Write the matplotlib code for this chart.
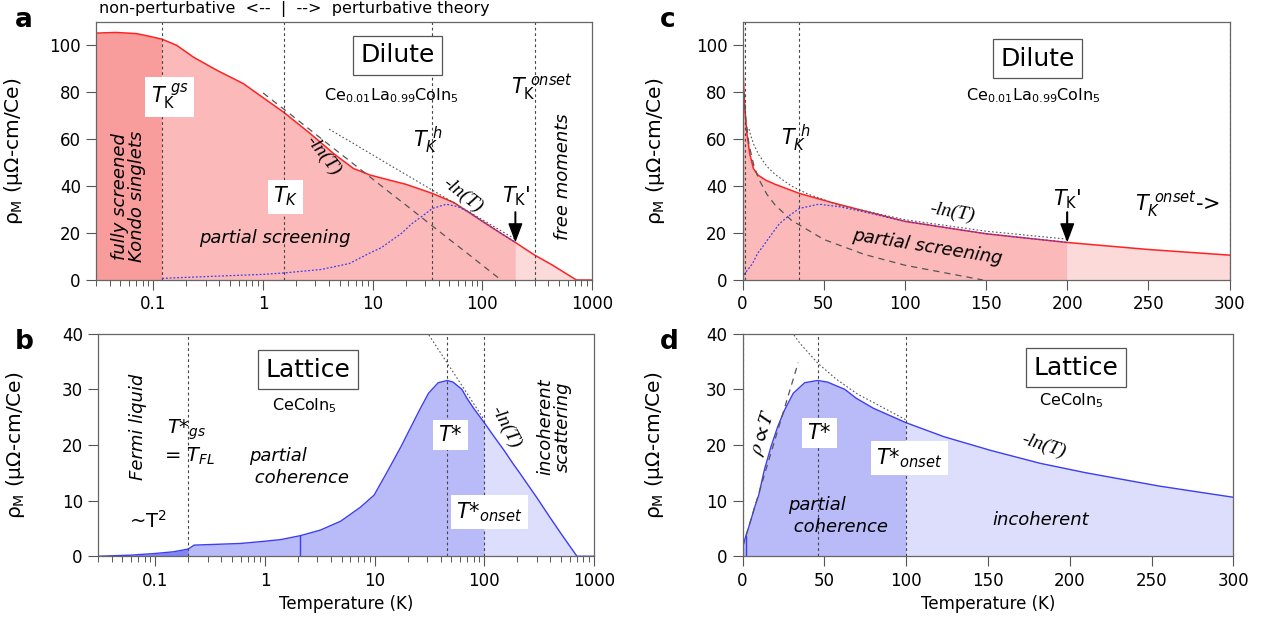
import numpy as np
import matplotlib.pyplot as plt
from matplotlib.ticker import LogLocator, NullFormatter

plt.rcParams['font.family'] = ['DejaVu Sans']
plt.rcParams['mathtext.fontset'] = 'dejavusans'

# dilute Ce0.01La0.99CoIn5, magnetic resistivity per Ce (uOhm-cm/Ce)
T_dil = [0.03, 0.045, 0.07, 0.093, 0.12, 0.163, 0.231, 0.378, 0.66, 1.0, 1.55, 2.69,
         4.39, 6.68, 9.5, 14.4, 20, 35, 55, 100, 150, 200, 250, 300, 430, 720, 1000]
rho_dil = [105.2, 105.5, 105.0, 103.8, 102.6, 100.0, 95.0, 89.4, 83.7, 77.7, 71.4, 62.4,
           53.9, 47.5, 44.7, 42.5, 40.8, 36.9, 33.0, 25.0, 19.7, 16.0, 13.0, 10.6, 6.5, 0.0, 0.0]

# partially screened contribution (blue dotted)
T_scr = [0.12, 0.41, 1.0, 1.55, 3.4, 6.1, 9.4, 12, 18.3, 22.7, 27.9, 35, 47, 60, 75, 100, 150, 200]
rho_scr = [0.7, 1.7, 2.4, 3.0, 4.5, 7.0, 11.5, 13.8, 19.9, 24.0, 27.0, 30.5, 32.3, 31.2, 29.0, 25.0, 19.7, 16.0]

# -ln(T) guides for the dilute curve
T_ln1 = [1, 2, 4, 7, 10, 15, 20, 30, 50, 75, 100, 148]
rho_ln1 = [79.7, 68.7, 57.6, 48.7, 43.0, 36.5, 32.0, 25.5, 17.3, 10.9, 6.3, 0.0]
T_ln2 = [4, 5, 7, 10, 15, 20, 30, 40, 60, 100, 150, 200]
rho_ln2 = [64.3, 61.6, 57.6, 53.3, 48.4, 45.0, 40.1, 36.7, 31.8, 25.7, 20.8, 17.4]

# lattice CeCoIn5
T_lat = [0.03, 0.06, 0.1, 0.146, 0.2, 0.226, 0.6, 1.0, 1.4, 2.1, 3.2, 4.9, 7.4, 9.9, 13.3,
         17.5, 21.5, 25.7, 31, 38, 46, 52, 62.5, 69.5, 80, 100, 123, 152, 182, 210, 255,
         300, 400, 500, 700, 1000]
rho_lat = [0.0, 0.2, 0.5, 0.8, 1.3, 2.0, 2.3, 2.7, 3.0, 3.7, 4.7, 6.3, 8.8, 11.0, 15.5,
           19.8, 23.3, 26.3, 29.3, 31.2, 31.6, 31.3, 30.0, 28.4, 26.6, 24.0, 21.5, 19.0, 16.7, 15.0, 12.6,
           10.6, 6.9, 4.1, 0.0, 0.0]

T_lnL = [25, 28, 35, 46, 57, 70, 100]
rho_lnL = [42.7, 41.2, 38.3, 34.7, 31.9, 29.2, 24.5]
T_lin = [0.2, 34]
rho_lin = [1.8, 34.8]

# characteristic temperatures
TK_gs, TK, TK_h, TK_p, TK_on = 0.12, 1.55, 35, 200, 300
Tgs, Tstar, Tstar_on = 0.2, 46, 100

red = '#ff2222'
red_fill = ['#f89c9c', '#fbb9b9', '#fddada']
blue = '#3d3df2'
blue_fill = ['#8286f4', '#b9bbf9', '#dddefc']
vl = dict(color='#444444', lw=0.8, ls=(0, (2.5, 2.5)))
serif_it = dict(family='Liberation Serif', style='italic', fontsize=14)
wbox = dict(boxstyle='square,pad=0.25', fc='white', ec='none')

fig = plt.figure(figsize=(12.65, 6.25), dpi=100)
ax_a = fig.add_axes([0.076, 0.552, 0.392, 0.413])
ax_b = fig.add_axes([0.0775, 0.110, 0.392, 0.356])
ax_c = fig.add_axes([0.587, 0.552, 0.385, 0.413])
ax_d = fig.add_axes([0.587, 0.110, 0.388, 0.356])


def style(ax, log, ymax, ystep, labx):
    if log:
        ax.set_xscale('log')
        ax.set_xlim(0.03, 1000)
        ax.set_xticks([0.1, 1, 10, 100, 1000])
        ax.set_xticklabels(['0.1', '1', '10', '100', '1000'])
        ax.xaxis.set_minor_locator(LogLocator(base=10, subs=np.arange(2, 10)))
        ax.xaxis.set_minor_formatter(NullFormatter())
    else:
        ax.set_xlim(0, 300)
        ax.set_xticks(np.arange(0, 301, 50))
    ax.set_ylim(0, ymax)
    ax.set_yticks(np.arange(0, ymax + 0.1, ystep) if ymax == 40 else np.arange(0, 101, 20))
    for s in ax.spines.values():
        s.set_color('#666666')
        s.set_linewidth(0.9)
    ax.tick_params(which='major', direction='out', length=7, width=0.8, color='#555555',
                   labelsize=12, pad=4)
    ax.tick_params(which='minor', direction='out', length=4, width=0.7, color='#555555')
    ax.set_ylabel('ρ$_{\\mathrm{M}}$ (μΩ-cm/Ce)', fontsize=14.5)
    ax.yaxis.set_label_coords(labx, 0.5)


def dilute(ax):
    T = np.array(T_dil)
    r = np.array(rho_dil)
    ax.fill_between(T, 0, r, where=T <= TK_gs, color=red_fill[0], lw=0)
    ax.fill_between(T, 0, r, where=(T >= TK_gs) & (T <= TK_p), color=red_fill[1], lw=0)
    ax.fill_between(T, 0, r, where=T >= TK_p, color=red_fill[2], lw=0)
    ax.plot(T, r, color=red, lw=1.1)
    for x in [TK_gs, TK, TK_h, TK_on]:
        ax.axvline(x, **vl)
    ax.plot(T_ln1, rho_ln1, color='#555555', lw=0.9, ls=(0, (5, 4)))
    ax.plot(T_ln2, rho_ln2, color='#555555', lw=0.8, ls=(0, (1.5, 2)))
    ax.plot(T_scr, rho_scr, color=blue, lw=0.9, ls=(0, (1.5, 1.5)))
    i = T_dil.index(TK_p)
    ax.annotate('', xy=(TK_p, rho_dil[i] + 0.8), xytext=(TK_p, rho_dil[i] + 13),
                arrowprops=dict(facecolor='k', edgecolor='k', width=0.4, headwidth=9,
                                headlength=12, shrink=0))


def lattice(ax):
    T = np.array(T_lat)
    r = np.array(rho_lat)
    ax.fill_between(T, 0, r, where=T <= Tgs, color=blue_fill[0], lw=0)
    ax.fill_between(T, 0, r, where=(T >= Tgs) & (T <= Tstar_on), color=blue_fill[1], lw=0)
    ax.fill_between(T, 0, r, where=T >= Tstar_on, color=blue_fill[2], lw=0)
    ax.plot(T, r, color=blue, lw=1.0)
    i = T_lat.index(2.1)
    ax.plot([2.1, 2.1], [0, rho_lat[i]], color=blue, lw=1.0)
    for x in [Tgs, Tstar, Tstar_on]:
        ax.axvline(x, **vl)
    ax.plot(T_lnL, rho_lnL, color='#555555', lw=0.8, ls=(0, (1.5, 2)))


# a: dilute, log T
dilute(ax_a)
style(ax_a, True, 110, 20, -0.143)
ax_a.text(16.9, 95.7, 'Dilute', fontsize=18, ha='center', va='center',
          bbox=dict(boxstyle='square,pad=0.3', fc='white', ec='#555555', lw=0.9))
ax_a.text(14.9, 78.7, r'Ce$_{0.01}$La$_{0.99}$CoIn$_5$', fontsize=11.5, ha='center', va='center')
ax_a.text(0.14, 78, r'$T_{\mathrm{K}}^{\ gs}$', fontsize=15, ha='center', va='center', bbox=wbox)
ax_a.text(1.6, 35.5, r'$T_K$', fontsize=15, ha='center', va='center', bbox=wbox)
ax_a.text(32, 59.6, r'$T_K^{\ h}$', fontsize=15, ha='center', va='center')
ax_a.text(3.5, 53, '-ln(T)', rotation=-52, ha='center', va='center', **serif_it)
ax_a.text(66, 36, '-ln(T)', rotation=-38, ha='center', va='center', **serif_it)
ax_a.text(205, 35.5, r"$T_{\mathrm{K}}$'", fontsize=15, ha='center', va='center')
ax_a.text(350, 82, r'$T_{\mathrm{K}}^{\ onset}$', fontsize=15, ha='center', va='center')
ax_a.text(540, 44, 'free moments', rotation=90, style='italic', fontsize=13,
          ha='center', va='center')
ax_a.text(0.059, 35.5, 'fully screened\nKondo singlets', rotation=90, style='italic',
          fontsize=13, ha='center', va='center', linespacing=0.95)
ax_a.text(1.29, 17.7, 'partial screening', style='italic', fontsize=13, ha='center', va='center')

# b: lattice, log T
lattice(ax_b)
style(ax_b, True, 40, 10, -0.143)
ax_b.set_xlabel('Temperature (K)', fontsize=12)
ax_b.text(2.47, 33.5, 'Lattice', fontsize=18, ha='center', va='center',
          bbox=dict(boxstyle='square,pad=0.3', fc='white', ec='#555555', lw=0.9))
ax_b.text(2.31, 27, r'CeCoIn$_5$', fontsize=11.5, ha='center', va='center')
ax_b.text(0.069, 23.3, 'Fermi liquid', rotation=90, style='italic', fontsize=13,
          ha='center', va='center')
ax_b.text(0.195, 22.7, r'$T$*$_{gs}$', style='italic', fontsize=14, ha='center', va='center')
ax_b.text(0.205, 17.9, r'= $T_{FL}$', fontsize=14, ha='center', va='center')
ax_b.text(0.72, 16, 'partial\n coherence', style='italic', fontsize=13, ha='left', va='center',
          linespacing=1.3)
ax_b.text(0.085, 6.4, r'~T$^2$', fontsize=14, ha='center', va='center')
ax_b.text(49, 21.8, r'$T$*', style='italic', fontsize=15, ha='center', va='center', bbox=wbox)
ax_b.text(112, 8, r'$T$*$_{onset}$', style='italic', fontsize=15, ha='center', va='center',
          bbox=wbox)
ax_b.text(155, 23.2, '-ln(T)', rotation=-62, ha='center', va='center', **serif_it)
ax_b.text(430, 23.3, 'incoherent\nscattering', rotation=90, style='italic', fontsize=13,
          ha='center', va='center', linespacing=0.95)

# c: dilute, linear T
dilute(ax_c)
style(ax_c, False, 110, 20, -0.156)
ax_c.text(181.7, 94.3, 'Dilute', fontsize=18, ha='center', va='center',
          bbox=dict(boxstyle='square,pad=0.3', fc='white', ec='#555555', lw=0.9))
ax_c.text(179, 78.7, r'Ce$_{0.01}$La$_{0.99}$CoIn$_5$', fontsize=11.5, ha='center', va='center')
ax_c.text(32.5, 60.3, r'$T_K^{\ h}$', fontsize=15, ha='center', va='center')
ax_c.text(129, 29, '-ln(T)', rotation=-10, ha='center', va='center', **serif_it)
ax_c.text(114, 14.2, 'partial screening', rotation=-9, style='italic', fontsize=13,
          ha='center', va='center')
ax_c.text(200, 34.5, r"$T_{\mathrm{K}}$'", fontsize=15, ha='center', va='center')
ax_c.text(268, 32, r'$T_K^{\ onset}$->', fontsize=15, ha='center', va='center')

# d: lattice, linear T
lattice(ax_d)
ax_d.plot(T_lin, rho_lin, color='#555555', lw=0.9, ls=(0, (5, 4)))
style(ax_d, False, 40, 10, -0.156)
ax_d.set_xlabel('Temperature (K)', fontsize=12)
ax_d.text(204, 33.9, 'Lattice', fontsize=18, ha='center', va='center',
          bbox=dict(boxstyle='square,pad=0.3', fc='white', ec='#555555', lw=0.9))
ax_d.text(201, 27.9, r'CeCoIn$_5$', fontsize=11.5, ha='center', va='center')
ax_d.text(12.7, 22.2, r'$\rho\propto T$', rotation=72, fontsize=15, math_fontfamily='stix',
          ha='center', va='center')
ax_d.text(47, 22.2, r'$T$*', style='italic', fontsize=15, ha='center', va='center', bbox=wbox)
ax_d.text(102, 17.7, r'$T$*$_{onset}$', style='italic', fontsize=15, ha='center', va='center',
          bbox=wbox)
ax_d.text(184, 19.8, '-ln(T)', rotation=-18, ha='center', va='center', **serif_it)
ax_d.text(28, 7.2, 'partial\n coherence', style='italic', fontsize=13, ha='left', va='center',
          linespacing=1.3)
ax_d.text(182, 6.6, 'incoherent', style='italic', fontsize=13, ha='center', va='center')

for lab, x, y in [('a', 0.012, 0.968), ('b', 0.012, 0.453), ('c', 0.522, 0.968), ('d', 0.522, 0.453)]:
    fig.text(x, y, lab, fontsize=19, fontweight='bold', ha='left', va='center')
fig.text(0.233, 0.985, 'non-perturbative  <--  |  -->  perturbative theory', fontsize=11.5,
         ha='center', va='center')

fig.savefig('out.png', dpi=100)
